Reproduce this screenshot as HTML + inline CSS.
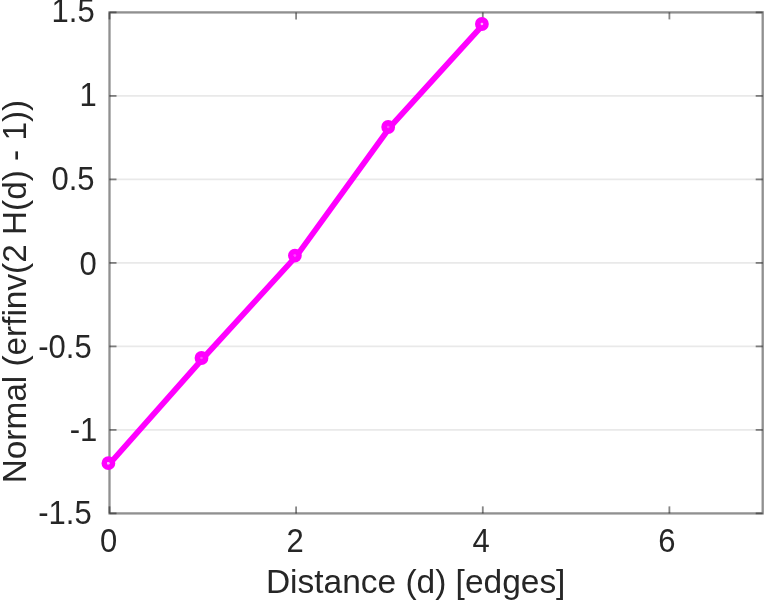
<!DOCTYPE html>
<html><head><meta charset="utf-8"><title>plot</title>
<style>html,body{margin:0;padding:0;background:#fff;overflow:hidden}svg{display:block}text{font-family:"Liberation Sans",sans-serif;font-size:31px;fill:#262626}</style></head><body>
<svg width="764" height="600" viewBox="0 0 764 600">
<defs><filter id="b" x="-5%" y="-5%" width="110%" height="110%"><feGaussianBlur stdDeviation="0.55"/></filter><filter id="b3" x="-5%" y="-5%" width="110%" height="110%"><feGaussianBlur stdDeviation="0.7"/></filter><filter id="b2" x="-5%" y="-5%" width="110%" height="110%"><feGaussianBlur stdDeviation="0.72"/></filter></defs>
<rect width="764" height="600" fill="#fff"/>
<g filter="url(#b3)">
<line x1="109.5" x2="762.7" y1="429.9" y2="429.9" stroke="#e9e9e9" stroke-width="1.6"/>
<line x1="109.5" x2="762.7" y1="346.4" y2="346.4" stroke="#e9e9e9" stroke-width="1.6"/>
<line x1="109.5" x2="762.7" y1="262.9" y2="262.9" stroke="#e9e9e9" stroke-width="1.6"/>
<line x1="109.5" x2="762.7" y1="179.4" y2="179.4" stroke="#e9e9e9" stroke-width="1.6"/>
<line x1="109.5" x2="762.7" y1="95.9" y2="95.9" stroke="#e9e9e9" stroke-width="1.6"/>
<rect x="109.5" y="12.4" width="653.2" height="501.0" fill="none" stroke="#262626" stroke-opacity="0.52" stroke-width="2.3"/>
<line x1="109.5" x2="109.5" y1="513.4" y2="506.4" stroke="#262626" stroke-opacity="0.56" stroke-width="1.8"/>
<line x1="109.5" x2="109.5" y1="12.4" y2="19.4" stroke="#262626" stroke-opacity="0.56" stroke-width="1.8"/>
<line x1="296.1" x2="296.1" y1="513.4" y2="506.4" stroke="#262626" stroke-opacity="0.56" stroke-width="1.8"/>
<line x1="296.1" x2="296.1" y1="12.4" y2="19.4" stroke="#262626" stroke-opacity="0.56" stroke-width="1.8"/>
<line x1="482.8" x2="482.8" y1="513.4" y2="506.4" stroke="#262626" stroke-opacity="0.56" stroke-width="1.8"/>
<line x1="482.8" x2="482.8" y1="12.4" y2="19.4" stroke="#262626" stroke-opacity="0.56" stroke-width="1.8"/>
<line x1="669.4" x2="669.4" y1="513.4" y2="506.4" stroke="#262626" stroke-opacity="0.56" stroke-width="1.8"/>
<line x1="669.4" x2="669.4" y1="12.4" y2="19.4" stroke="#262626" stroke-opacity="0.56" stroke-width="1.8"/>
<line x1="109.5" x2="116.5" y1="513.4" y2="513.4" stroke="#262626" stroke-opacity="0.56" stroke-width="1.8"/>
<line x1="762.7" x2="755.7" y1="513.4" y2="513.4" stroke="#262626" stroke-opacity="0.56" stroke-width="1.8"/>
<line x1="109.5" x2="116.5" y1="429.9" y2="429.9" stroke="#262626" stroke-opacity="0.56" stroke-width="1.8"/>
<line x1="762.7" x2="755.7" y1="429.9" y2="429.9" stroke="#262626" stroke-opacity="0.56" stroke-width="1.8"/>
<line x1="109.5" x2="116.5" y1="346.4" y2="346.4" stroke="#262626" stroke-opacity="0.56" stroke-width="1.8"/>
<line x1="762.7" x2="755.7" y1="346.4" y2="346.4" stroke="#262626" stroke-opacity="0.56" stroke-width="1.8"/>
<line x1="109.5" x2="116.5" y1="262.9" y2="262.9" stroke="#262626" stroke-opacity="0.56" stroke-width="1.8"/>
<line x1="762.7" x2="755.7" y1="262.9" y2="262.9" stroke="#262626" stroke-opacity="0.56" stroke-width="1.8"/>
<line x1="109.5" x2="116.5" y1="179.4" y2="179.4" stroke="#262626" stroke-opacity="0.56" stroke-width="1.8"/>
<line x1="762.7" x2="755.7" y1="179.4" y2="179.4" stroke="#262626" stroke-opacity="0.56" stroke-width="1.8"/>
<line x1="109.5" x2="116.5" y1="95.9" y2="95.9" stroke="#262626" stroke-opacity="0.56" stroke-width="1.8"/>
<line x1="762.7" x2="755.7" y1="95.9" y2="95.9" stroke="#262626" stroke-opacity="0.56" stroke-width="1.8"/>
<line x1="109.5" x2="116.5" y1="12.4" y2="12.4" stroke="#262626" stroke-opacity="0.56" stroke-width="1.8"/>
<line x1="762.7" x2="755.7" y1="12.4" y2="12.4" stroke="#262626" stroke-opacity="0.56" stroke-width="1.8"/>
</g><g filter="url(#b2)">
<polyline fill="none" stroke="#ff00ff" stroke-width="5.7" stroke-linejoin="round" points="110.2,463.2 203.3,358.0 296.8,255.6 390.1,127.0 483.7,24.0"/>
</g><g filter="url(#b)">
<circle cx="108.4" cy="463.2" r="4.1" fill="none" stroke="#ff00ff" stroke-width="5.6"/>
<circle cx="201.5" cy="358.0" r="4.1" fill="none" stroke="#ff00ff" stroke-width="5.6"/>
<circle cx="294.9" cy="255.6" r="4.1" fill="none" stroke="#ff00ff" stroke-width="5.6"/>
<circle cx="388.2" cy="127.0" r="4.1" fill="none" stroke="#ff00ff" stroke-width="5.6"/>
<circle cx="481.9" cy="24.0" r="4.1" fill="none" stroke="#ff00ff" stroke-width="5.6"/>
<circle cx="108.4" cy="463.2" r="1.3" fill="#ffb0ff"/>
<circle cx="201.5" cy="358.0" r="1.3" fill="#ff48ff"/>
<circle cx="294.9" cy="255.6" r="1.3" fill="#ff48ff"/>
<circle cx="388.2" cy="127.0" r="1.3" fill="#ff48ff"/>
<circle cx="481.9" cy="24.0" r="1.3" fill="#ffb0ff"/>
</g><g filter="url(#b)">
<text transform="translate(100.00,552.20) scale(1.000,1.060)">0</text>
<text transform="translate(286.50,551.70) scale(1.000,1.060)">2</text>
<text transform="translate(472.50,551.70) scale(1.000,1.060)">4</text>
<text transform="translate(658.30,552.00) scale(1.000,1.060)">6</text>
<text transform="translate(51.60,22.20) scale(1.000,1.060)">1.5</text>
<text transform="translate(79.50,105.60) scale(1.000,1.060)">1</text>
<text transform="translate(51.50,190.10) scale(1.000,1.060)">0.5</text>
<text transform="translate(79.50,274.50) scale(1.000,1.060)">0</text>
<text transform="translate(38.30,358.30) scale(1.000,1.060)">-0.5</text>
<text transform="translate(69.80,440.60) scale(1.000,1.060)">-1</text>
<text transform="translate(38.30,523.80) scale(1.000,1.060)">-1.5</text>
<text transform="translate(265.90,593.00) scale(1.080,1.100)">Distance (d) [edges]</text>
<text transform="translate(25.80,483.30) rotate(-90) scale(1.076,1.100)">Normal (erfinv(2 H(d) - 1))</text>
</g></svg></body></html>
